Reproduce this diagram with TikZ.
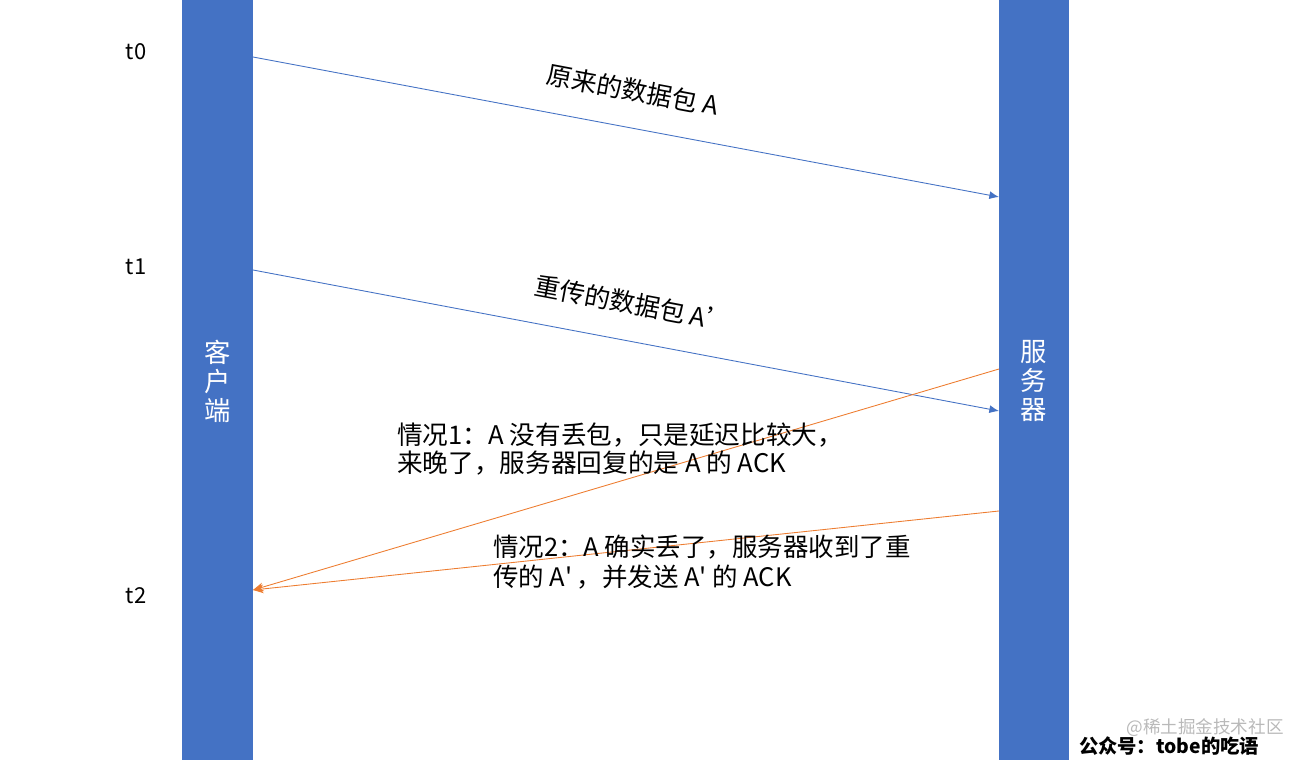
\documentclass[tikz,border=0pt]{standalone}
\usepackage{fontspec}
\setmainfont{Noto Sans CJK SC}
\usetikzlibrary{arrows.meta}
\definecolor{barblue}{HTML}{4472C4}
\definecolor{ackorange}{HTML}{ED7D31}
\tikzset{
    hostbar/.style={fill=barblue,draw=none},
    hostname/.style={text=white,align=center,font=\fontsize{15}{16.5}\selectfont},
    pkt/.style={-{Latex[length=5.5pt,width=4.5pt]},draw=barblue,line width=0.5pt},
    ack/.style={-{Stealth[length=6pt,width=5pt]},draw=ackorange,line width=0.5pt},
    note/.style={align=left,anchor=west,font=\fontsize{14.6}{16}\selectfont},
    pktlabel/.style={midway,sloped,above=11pt,font=\fontsize{14.5}{16}\selectfont,text=black},
}
\begin{document}
\begin{tikzpicture}[x=0.02cm,y=-0.02cm]
\useasboundingbox (0,0) rectangle (1306,760);
% the two hosts
\fill[hostbar] (182,0) rectangle (253,760);
\fill[hostbar] (999,0) rectangle (1069,760);
\node[hostname] (client) at (218,381){客\\户\\端};
\node[hostname] (server) at (1034,381){服\\务\\器};

% arrow ends
\coordinate (c0) at (253,57);
\coordinate (c1) at (253,270);
\coordinate (c2) at (253,590);
\coordinate (s0) at (999,197);
\coordinate (s1) at (999,411);
\coordinate (s2) at (999,369);
\coordinate (s3) at (999,511);

\foreach \y/\ytext in {52/t0,267/t1,596/t2}
{
    \node[font=\fontsize{12.5}{15}\selectfont] (\ytext) at (136,\y){\ytext};
}

\draw[pkt] (c0)--(s0)node[pktlabel]{原来的数据包 \textit{A}};
\draw[pkt] (c1)--(s1)node[pktlabel]{重传的数据包 \textit{A’}};
\draw[ack] (s2)--(c2);
\draw[ack] (s3)--(c2);

\node[note] (case1) at (391,449){情况1：A 没有丢包，只是延迟比较大，\\来晚了，服务器回复的是 A 的 ACK};
\node[note,font=\fontsize{14.5}{17.5}\selectfont] (case2) at (487,562){情况2：A 确实丢了，服务器收到了重\\传的 A\textquotesingle\,，并发送 A\textquotesingle\ 的 ACK};

% watermark
\node[text=gray!55,font=\fontsize{10}{12}\selectfont] (mark) at (1205,728){@稀土掘金技术社区};
\node[font=\fontsize{11}{13}\selectfont\bfseries] (wechat) at (1169,746){公众号：tobe的吃语};
\end{tikzpicture}
\end{document}
